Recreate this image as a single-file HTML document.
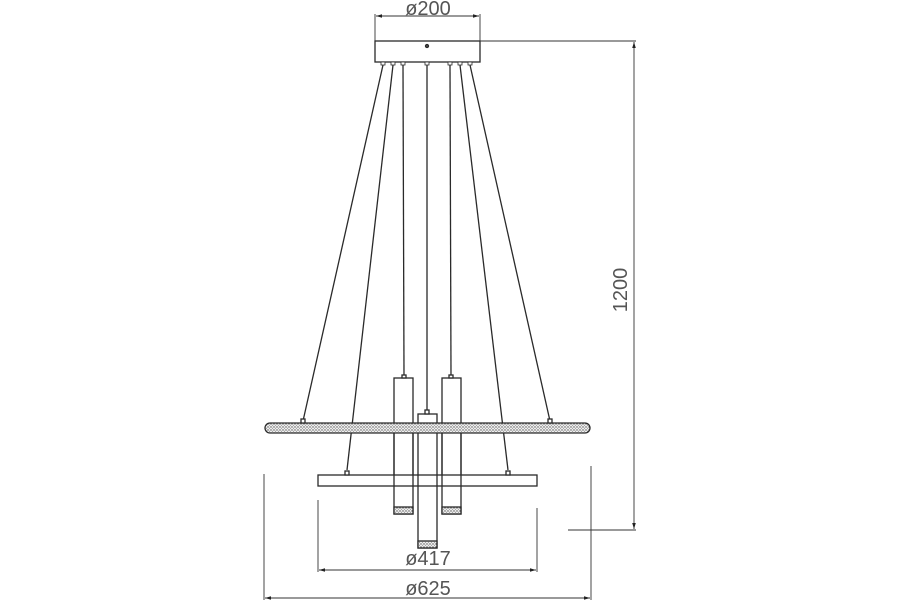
<!DOCTYPE html>
<html><head><meta charset="utf-8"><style>html,body{margin:0;padding:0;background:#fff}svg{display:block}</style></head>
<body>
<svg width="900" height="600" viewBox="0 0 900 600" xmlns="http://www.w3.org/2000/svg">
<defs>
<pattern id="dots" width="3" height="3" patternUnits="userSpaceOnUse">
<rect width="3" height="3" fill="#eee"/><circle cx="1" cy="1" r="0.7" fill="#555"/><circle cx="2.5" cy="2.3" r="0.5" fill="#777"/>
</pattern>
<marker id="ar" viewBox="0 0 10 6" refX="10" refY="3" markerWidth="8" markerHeight="4" orient="auto-start-reverse"><path d="M0,0L10,3L0,6z" fill="#222"/></marker>
</defs>
<g stroke="#2a2a2a" stroke-width="1.3" fill="none">
<rect x="375" y="41" width="105" height="21" fill="#fff"/>
<circle cx="427" cy="46" r="1.5" fill="#555"/>
<g fill="#fff" stroke-width="0.8">
<rect x="381" y="62" width="4" height="3"/><rect x="391" y="62" width="4" height="3"/><rect x="401" y="62" width="4" height="3"/>
<rect x="425" y="62" width="4" height="3"/><rect x="448" y="62" width="4" height="3"/><rect x="458" y="62" width="4" height="3"/><rect x="468" y="62" width="4" height="3"/>
</g>
<line x1="383" y1="65" x2="303" y2="421"/>
<line x1="393" y1="65" x2="347" y2="470"/>
<line x1="403" y1="65" x2="404" y2="376"/>
<line x1="427" y1="65" x2="427" y2="411"/>
<line x1="450" y1="65" x2="451" y2="376"/>
<line x1="460" y1="65" x2="508" y2="470"/>
<line x1="470" y1="65" x2="550" y2="421"/>
<rect x="394" y="378" width="19" height="136" fill="#fff"/>
<rect x="442" y="378" width="19" height="136" fill="#fff"/>
<rect x="394" y="507" width="19" height="7" fill="url(#dots)"/>
<rect x="442" y="507" width="19" height="7" fill="url(#dots)"/>
<rect x="402" y="375" width="4" height="3" fill="#fff"/>
<rect x="449" y="375" width="4" height="3" fill="#fff"/>
<rect x="418" y="414" width="19" height="134" fill="#fff"/>
<rect x="418" y="541" width="19" height="7" fill="url(#dots)"/>
<rect x="425" y="410" width="4" height="4" fill="#fff"/>
<rect x="265" y="423" width="325" height="10" rx="5" fill="url(#dots)"/>
<rect x="301" y="419" width="4" height="4" fill="#fff"/>
<rect x="548" y="419" width="4" height="4" fill="#fff"/>
<line x1="394" y1="433" x2="394" y2="475"/><line x1="413" y1="433" x2="413" y2="475"/>
<line x1="442" y1="433" x2="442" y2="475"/><line x1="461" y1="433" x2="461" y2="475"/>
<rect x="318" y="475" width="219" height="11" fill="none"/>
<rect x="345" y="471" width="4" height="4" fill="#fff"/>
<rect x="506" y="471" width="4" height="4" fill="#fff"/>
</g>
<g stroke="#333" stroke-width="0.9" fill="none">
<line x1="375" y1="14" x2="375" y2="41"/><line x1="480" y1="14" x2="480" y2="41"/>
<line x1="376" y1="16" x2="479" y2="16" marker-start="url(#ar)" marker-end="url(#ar)"/>
<line x1="480" y1="41" x2="636" y2="41"/>
<line x1="634" y1="42" x2="634" y2="529" marker-start="url(#ar)" marker-end="url(#ar)"/>
<line x1="568" y1="530" x2="636" y2="530"/>
<line x1="318" y1="500" x2="318" y2="572"/><line x1="537" y1="508" x2="537" y2="572"/>
<line x1="319" y1="570" x2="536" y2="570" marker-start="url(#ar)" marker-end="url(#ar)"/>
<line x1="264" y1="474" x2="264" y2="600"/><line x1="591" y1="466" x2="591" y2="600"/>
<line x1="265" y1="598" x2="590" y2="598" marker-start="url(#ar)" marker-end="url(#ar)"/>
</g>
<g font-family="Liberation Sans, DejaVu Sans, sans-serif" font-size="20" fill="#555" text-anchor="middle">
<text x="428" y="15">ø200</text>
<text x="428" y="565">ø417</text>
<text x="428" y="595">ø625</text>
<text x="0" y="0" transform="translate(627,290) rotate(-90)">1200</text>
</g>
</svg>
</body></html>
